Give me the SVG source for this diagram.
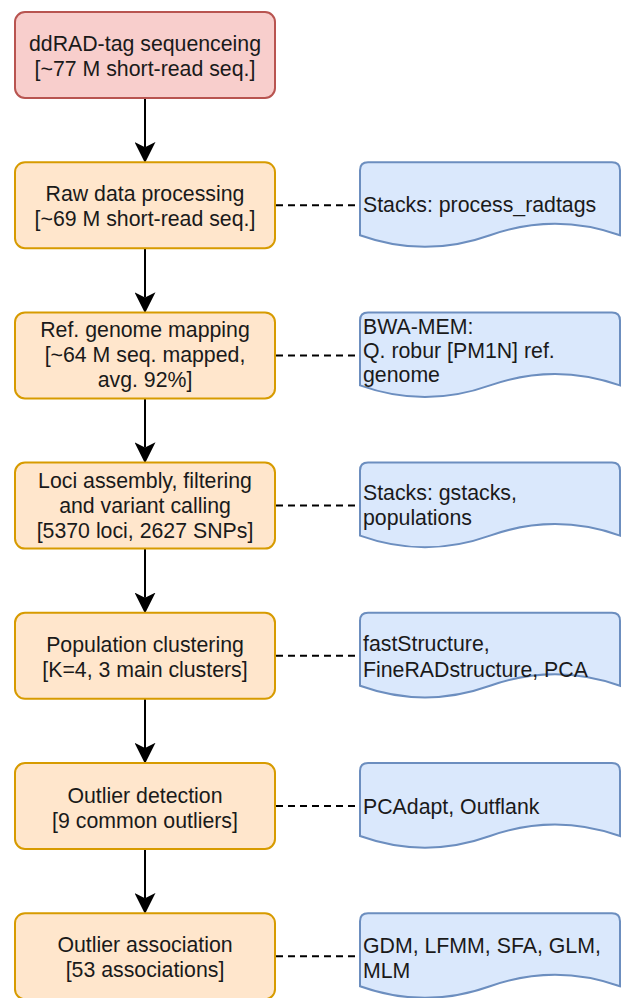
<svg xmlns="http://www.w3.org/2000/svg" width="623" height="998" viewBox="0 0 623 998">
<style>
text{font-family:"Liberation Sans",Arial,Helvetica,sans-serif;font-size:21.3px;fill:#1a1a1a}
.c{text-anchor:middle}
.start{fill:#f8cecc;stroke:#b85450;stroke-width:2}
.step{fill:#ffe6cc;stroke:#d79b00;stroke-width:2}
.doc{fill:#dae8fc;stroke:#6c8ebf;stroke-width:2}
.flow{stroke:#000;stroke-width:2;fill:none}
.dash{stroke:#000;stroke-width:2;fill:none;stroke-dasharray:7 5}
</style>
<defs>
<marker id="ah" markerUnits="userSpaceOnUse" markerWidth="21" markerHeight="21" viewBox="0 0 20 20" refX="5" refY="10" orient="auto">
<path d="M0,0 L20,10 L0,20 L5,10 Z" fill="#000"/>
</marker>
<path id="docshape" d="M8,0 L252,0 Q260,0 260,8 L260,73 Q195,50 130,73 Q65,96.3 0,73 L0,8 Q0,0 8,0 Z"/>
</defs>

<g id="connectors">
<line class="flow" x1="145" y1="98" x2="145" y2="147.2" marker-end="url(#ah)"/>
<line class="flow" x1="145" y1="248.2" x2="145" y2="297.4" marker-end="url(#ah)"/>
<line class="flow" x1="145" y1="398.4" x2="145" y2="447.6" marker-end="url(#ah)"/>
<line class="flow" x1="145" y1="548.6" x2="145" y2="597.8" marker-end="url(#ah)"/>
<line class="flow" x1="145" y1="698.8" x2="145" y2="748" marker-end="url(#ah)"/>
<line class="flow" x1="145" y1="849" x2="145" y2="898.2" marker-end="url(#ah)"/>
<line class="dash" x1="276" y1="205.2" x2="360" y2="205.2"/>
<line class="dash" x1="276" y1="355.4" x2="360" y2="355.4"/>
<line class="dash" x1="276" y1="505.6" x2="360" y2="505.6"/>
<line class="dash" x1="276" y1="655.8" x2="360" y2="655.8"/>
<line class="dash" x1="276" y1="806" x2="360" y2="806"/>
<line class="dash" x1="276" y1="956.2" x2="360" y2="956.2"/>
</g>

<g id="n1">
<rect class="start" x="15" y="12" width="260" height="86" rx="10"/>
<text class="c" x="145" y="51">ddRAD-tag sequenceing</text>
<text class="c" x="145" y="76">[~77 M short-read seq.]</text>
</g>
<g id="n2">
<rect class="step" x="15" y="162.2" width="260" height="86" rx="10"/>
<text class="c" x="145" y="200.7">Raw data processing</text>
<text class="c" x="145" y="225.7">[~69 M short-read seq.]</text>
</g>
<g id="n3">
<rect class="step" x="15" y="312.4" width="260" height="86" rx="10"/>
<text class="c" x="145" y="337.4">Ref. genome mapping</text>
<text class="c" x="145" y="362.4">[~64 M seq. mapped,</text>
<text class="c" x="145" y="387.4">avg. 92%]</text>
</g>
<g id="n4">
<rect class="step" x="15" y="462.6" width="260" height="86" rx="10"/>
<text class="c" x="145" y="488.3">Loci assembly, filtering</text>
<text class="c" x="145" y="513.3">and variant calling</text>
<text class="c" x="145" y="538.3">[5370 loci, 2627 SNPs]</text>
</g>
<g id="n5">
<rect class="step" x="15" y="612.8" width="260" height="86" rx="10"/>
<text class="c" x="145" y="651.5">Population clustering</text>
<text class="c" x="145" y="676.5">[K=4, 3 main clusters]</text>
</g>
<g id="n6">
<rect class="step" x="15" y="763" width="260" height="86" rx="10"/>
<text class="c" x="145" y="802.5">Outlier detection</text>
<text class="c" x="145" y="827.5">[9 common outliers]</text>
</g>
<g id="n7">
<rect class="step" x="15" y="913.2" width="260" height="86" rx="10"/>
<text class="c" x="145" y="952">Outlier association</text>
<text class="c" x="145" y="977">[53 associations]</text>
</g>

<g id="d2">
<use href="#docshape" class="doc" x="360" y="162.2"/>
<text x="363" y="211.7">Stacks: process_radtags</text>
</g>
<g id="d3">
<use href="#docshape" class="doc" x="360" y="312.4"/>
<text x="363" y="334">BWA-MEM:</text>
<text x="363" y="358.3">Q. robur [PM1N] ref.</text>
<text x="363" y="382.3">genome</text>
</g>
<g id="d4">
<use href="#docshape" class="doc" x="360" y="462.6"/>
<text x="363" y="500">Stacks: gstacks,</text>
<text x="363" y="525">populations</text>
</g>
<g id="d5">
<use href="#docshape" class="doc" x="360" y="612.8"/>
<text x="363" y="650.5">fastStructure,</text>
<text x="363" y="676.5">FineRADstructure, PCA</text>
</g>
<g id="d6">
<use href="#docshape" class="doc" x="360" y="763"/>
<text x="363" y="814">PCAdapt, Outflank</text>
</g>
<g id="d7">
<use href="#docshape" class="doc" x="360" y="913.2"/>
<text x="363" y="953.3">GDM, LFMM, SFA, GLM,</text>
<text x="363" y="978.3">MLM</text>
</g>
</svg>
